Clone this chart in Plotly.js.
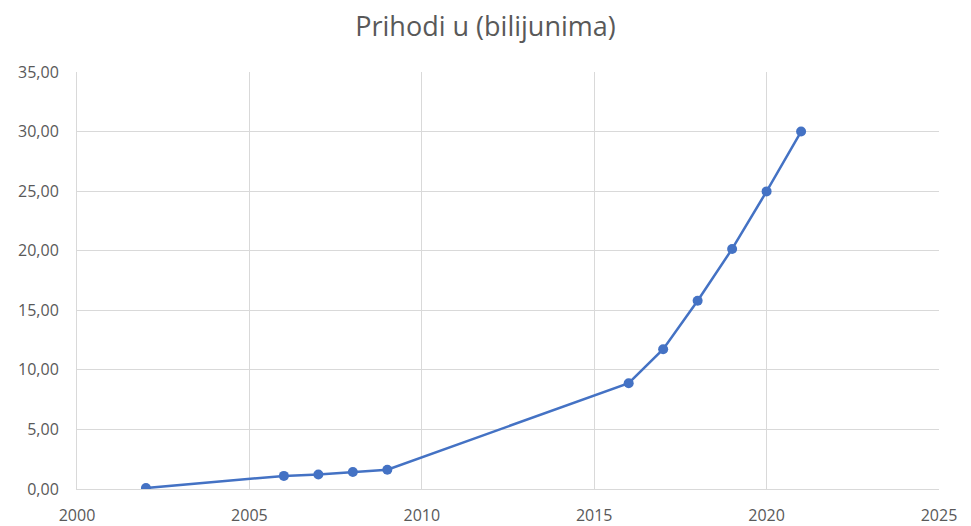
<!DOCTYPE html>
<html>
<head>
<meta charset="utf-8">
<script src="https://cdn.plot.ly/plotly-3.0.1.min.js"></script>
<style>html,body{margin:0;padding:0;background:#fff;}#chart{width:971px;height:526px;}</style>
</head>
<body>
<div id="chart"></div>
<script>
const years = [2002, 2006, 2007, 2008, 2009, 2016, 2017, 2018, 2019, 2020, 2021];
const revenue = [0.08, 1.1, 1.22, 1.42, 1.62, 8.88, 11.73, 15.8, 20.15, 24.98, 30.0];
const titleText = "Prihodi u (bilijunima)";

const trace = {
  x: years,
  y: revenue,
  type: 'scatter',
  mode: 'lines+markers',
  line: {color: '#4472C4', width: 2.5},
  marker: {color: '#4472C4', size: 10},
  hoverinfo: 'x+y'
};

const layout = {
  width: 971,
  height: 526,
  margin: {l: 77, r: 32, t: 72, b: 37},
  paper_bgcolor: '#ffffff',
  plot_bgcolor: '#ffffff',
  separators: ',.',
  showlegend: false,
  title: {
    text: titleText,
    font: {family: 'Open Sans, Noto Sans, sans-serif', size: 27, color: '#595959'},
    x: 0.5, xanchor: 'center', y: 0.95, yanchor: 'middle'
  },
  xaxis: {
    range: [2000, 2025],
    tickmode: 'linear', tick0: 2000, dtick: 5,
    tickformat: 'd',
    showgrid: true, gridcolor: '#d9d9d9', gridwidth: 1,
    showline: true, linecolor: '#d9d9d9', linewidth: 1,
    zeroline: false, ticks: '',
    ticklabelstandoff: 12,
    tickfont: {family: 'Open Sans, Noto Sans, sans-serif', size: 16, color: '#595959'}
  },
  yaxis: {
    range: [0, 35],
    tickmode: 'linear', tick0: 0, dtick: 5,
    tickformat: '.2f',
    showgrid: true, gridcolor: '#d9d9d9', gridwidth: 1,
    showline: true, linecolor: '#d9d9d9', linewidth: 1,
    zeroline: false, ticks: '',
    ticklabelstandoff: 14,
    tickfont: {family: 'Open Sans, Noto Sans, sans-serif', size: 16, color: '#595959'}
  }
};

Plotly.newPlot('chart', [trace], layout, {displayModeBar: false, staticPlot: true});
</script>
</body>
</html>
